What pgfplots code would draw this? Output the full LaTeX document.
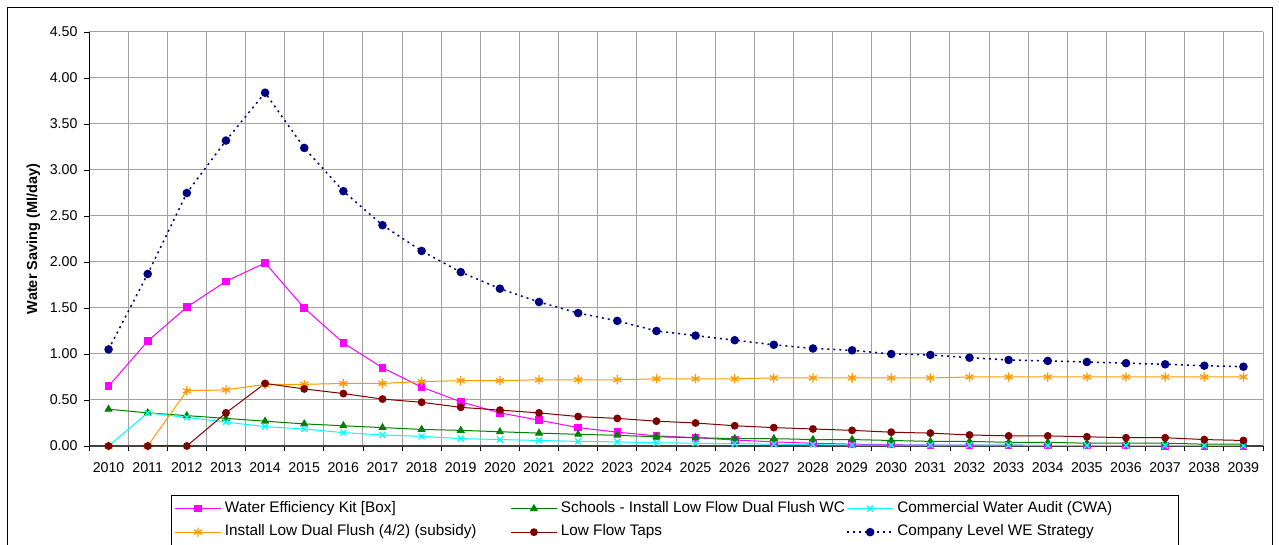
\documentclass[border=0pt]{standalone}
\usepackage{fontspec}
\setmainfont{Liberation Sans}
\setsansfont{Liberation Sans}
\usepackage{pgfplots}
\pgfplotsset{compat=1.18}

\definecolor{wekcol}{HTML}{FF00FF}
\definecolor{schcol}{HTML}{008000}
\definecolor{cwacol}{HTML}{00FFFF}
\definecolor{dualcol}{HTML}{FF9900}
\definecolor{tapcol}{HTML}{800000}
\definecolor{wecol}{HTML}{000080}
\definecolor{gridgrey}{HTML}{A0A0A0}

\newcommand{\legtext}[1]{\makebox[282pt][l]{#1}}
\newcommand{\legtextlast}[1]{\makebox[274pt][l]{#1}}

\begin{document}
\begin{tikzpicture}[x=1pt,y=1pt]
\useasboundingbox (0,0) rectangle (1279,545);
% chart frame
\draw[black, line width=1.2pt] (7.5,537.5) rectangle (1272.5,-20);

\begin{axis}[
  at={(89pt,99pt)}, anchor=south west,
  scale only axis, width=1174pt, height=414pt,
  xmin=2009.5, xmax=2039.5, ymin=0, ymax=4.5,
  xtick={2010,...,2039},
  minor xtick={2009.5,2010.5,...,2039.5},
  ytick={0,0.5,...,4.5},
  x tick label style={yshift=-8.5pt, /pgf/number format/1000 sep={}},
  y tick label style={xshift=-3pt, /pgf/number format/.cd, fixed, fixed zerofill, precision=2},
  /pgf/number format/assume math mode=true,
  tick label style={font=\fontsize{14.2}{16}\selectfont},
  tick align=outside, tick pos=left,
  major tick length=5pt, minor tick length=5pt,
  major x tick style={draw=none},
  tick style={black, line width=0.8pt},
  xmajorgrids=false, xminorgrids=true, ymajorgrids=true,
  grid style={gridgrey, line width=1pt},
  minor grid style={gridgrey, line width=1pt},
  axis x line*=bottom, axis y line*=left,
  x axis line style={black!75, line width=1.6pt},
  y axis line style={black, line width=1pt},
  every axis y label/.style={at={(axis description cs:-0.0473,0.5)}, rotate=90, anchor=center,
    font=\fontsize{14.5}{16}\selectfont\bfseries},
  ylabel={Water Saving (Ml/day)},
  legend columns=3,
  legend style={at={(axis description cs:0.06985,-0.1184)}, anchor=north west,
    draw=black, line width=0.8pt, inner xsep=3pt, inner ysep=4pt,
    font=\fontsize{15.3}{17}\selectfont, row sep=5pt,
    nodes={inner xsep=3.5pt, inner ysep=2pt, text height=11pt, text depth=3.5pt}},
  legend cell align=left,
  legend image code/.code={%
    \draw[mark repeat=2,mark phase=2] plot coordinates {(0pt,0pt) (23pt,0pt) (46pt,0pt)};},
]

% Water Efficiency Kit [Box]
\addplot[wekcol, line width=1pt, mark=square*, mark size=3.3pt, mark options={solid}] coordinates {
(2010,0.65) (2011,1.14) (2012,1.51) (2013,1.79) (2014,1.99) (2015,1.50) (2016,1.12) (2017,0.85)
(2018,0.64) (2019,0.48) (2020,0.36) (2021,0.28) (2022,0.20) (2023,0.15) (2024,0.11) (2025,0.09)
(2026,0.065) (2027,0.045) (2028,0.03) (2029,0.02) (2030,0.015) (2031,0.01) (2032,0.01) (2033,0.01)
(2034,0.005) (2035,0.005) (2036,0.005) (2037,0) (2038,0) (2039,0)};
\addlegendentry{\legtext{Water Efficiency Kit [Box]}}

% Schools - Install Low Flow Dual Flush WC
\addplot[schcol, line width=1pt, mark=triangle*, mark size=3.8pt, mark options={solid}] coordinates {
(2010,0.40) (2011,0.36) (2012,0.33) (2013,0.30) (2014,0.27) (2015,0.24) (2016,0.22) (2017,0.20)
(2018,0.18) (2019,0.17) (2020,0.155) (2021,0.14) (2022,0.127) (2023,0.116) (2024,0.10) (2025,0.09)
(2026,0.08) (2027,0.08) (2028,0.07) (2029,0.07) (2030,0.06) (2031,0.05) (2032,0.05) (2033,0.04)
(2034,0.04) (2035,0.03) (2036,0.03) (2037,0.03) (2038,0.02) (2039,0.02)};
\addlegendentry{\legtext{Schools - Install Low Flow Dual Flush WC}}

% Commercial Water Audit (CWA)
\addplot[cwacol, line width=1pt, mark=x, mark size=4.2pt, mark options={solid, line width=1.3pt}] coordinates {
(2010,0) (2011,0.36) (2012,0.31) (2013,0.26) (2014,0.21) (2015,0.185) (2016,0.145) (2017,0.12)
(2018,0.105) (2019,0.08) (2020,0.07) (2021,0.06) (2022,0.05) (2023,0.045) (2024,0.035) (2025,0.03)
(2026,0.025) (2027,0.02) (2028,0.015) (2029,0.01) (2030,0.01) (2031,0.01) (2032,0.01) (2033,0.01)
(2034,0.005) (2035,0.005) (2036,0.005) (2037,0.005) (2038,0.005) (2039,0.005)};
\addlegendentry{\legtextlast{Commercial Water Audit (CWA)}}

% Install Low Dual Flush (4/2) (subsidy)
\addplot[dualcol, line width=1pt, mark=asterisk, mark size=4.6pt, mark options={solid, line width=1.3pt}] coordinates {
(2010,0) (2011,0) (2012,0.60) (2013,0.61) (2014,0.67) (2015,0.67) (2016,0.68) (2017,0.68)
(2018,0.70) (2019,0.71) (2020,0.71) (2021,0.72) (2022,0.72) (2023,0.72) (2024,0.73) (2025,0.73)
(2026,0.73) (2027,0.74) (2028,0.74) (2029,0.74) (2030,0.74) (2031,0.74) (2032,0.75) (2033,0.75)
(2034,0.75) (2035,0.75) (2036,0.75) (2037,0.75) (2038,0.75) (2039,0.75)};
\addlegendentry{\legtext{Install Low Dual Flush (4/2) (subsidy)}}

% Low Flow Taps
\addplot[tapcol, line width=1pt, mark=*, mark size=3.4pt, mark options={solid}] coordinates {
(2010,0) (2011,0) (2012,0) (2013,0.36) (2014,0.68) (2015,0.62) (2016,0.57) (2017,0.51)
(2018,0.475) (2019,0.42) (2020,0.39) (2021,0.36) (2022,0.32) (2023,0.30) (2024,0.27) (2025,0.25)
(2026,0.22) (2027,0.20) (2028,0.185) (2029,0.17) (2030,0.15) (2031,0.14) (2032,0.12) (2033,0.11)
(2034,0.11) (2035,0.10) (2036,0.09) (2037,0.09) (2038,0.07) (2039,0.06)};
\addlegendentry{\legtext{Low Flow Taps}}

% Company Level WE Strategy
\addplot[wecol, line width=1.5pt, dash pattern=on 2pt off 4pt, mark=*, mark size=3.5pt, mark options={solid}] coordinates {
(2010,1.05) (2011,1.87) (2012,2.75) (2013,3.32) (2014,3.84) (2015,3.24) (2016,2.77) (2017,2.40)
(2018,2.12) (2019,1.89) (2020,1.71) (2021,1.565) (2022,1.445) (2023,1.36) (2024,1.25) (2025,1.20)
(2026,1.15) (2027,1.10) (2028,1.06) (2029,1.04) (2030,1.00) (2031,0.99) (2032,0.96) (2033,0.935)
(2034,0.925) (2035,0.913) (2036,0.90) (2037,0.888) (2038,0.873) (2039,0.862)};
\addlegendentry{\legtextlast{Company Level WE Strategy}}

\end{axis}
\end{tikzpicture}
\end{document}
